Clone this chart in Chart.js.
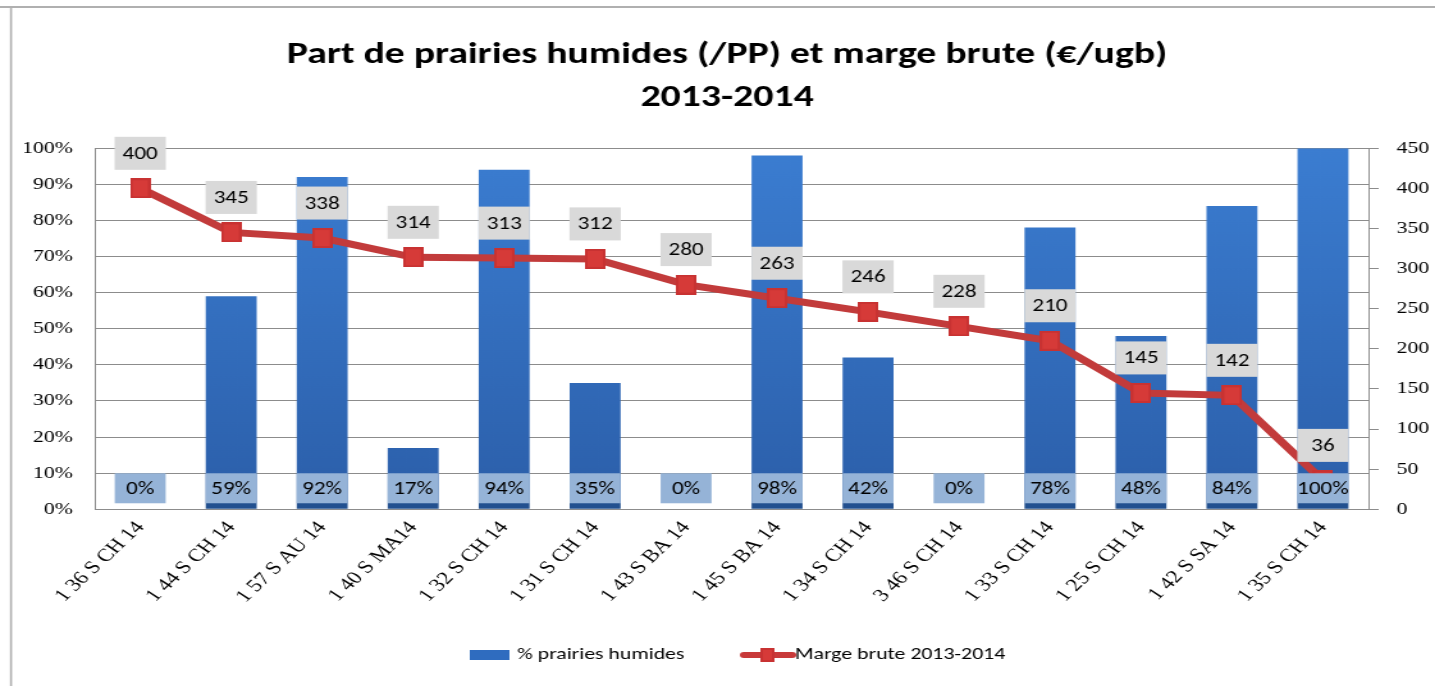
<!DOCTYPE html>
<html>
<head>
<meta charset="utf-8">
<script src="https://cdn.jsdelivr.net/npm/chart.js@4"></script>
<style>
  html, body { margin: 0; padding: 0; background: #fff; overflow: hidden; }
  /* l'image d'origine est etiree en largeur : on dessine a 1121 px puis on etire */
  #wrap { width: 1121px; height: 686px; transform: scaleX(1.2801); transform-origin: 0 0; }
</style>
</head>
<body>
<div id="wrap"><canvas id="graf" width="1121" height="686"></canvas></div>
<script>
// donnees
const exploitations = ['1 36 S CH 14', '1 44 S CH 14', '1 57 S AU 14', '1 40 S MA14', '1 32 S CH 14', '1 31 S CH 14', '1 43 S BA 14',
  '1 45 S BA 14', '1 34 S CH 14', '3 46 S CH 14', '1 33 S CH 14', '1 25 S CH 14', '1 42 S SA 14', '1 35 S CH 14'];
const partPrairies = [0, 59, 92, 17, 94, 35, 0, 98, 42, 0, 78, 48, 84, 100];
const margeBrute = [400, 345, 338, 314, 313, 312, 280, 263, 246, 228, 210, 145, 142, 36];
const ticksPct = [0, 10, 20, 30, 40, 50, 60, 70, 80, 90, 100];
const ticksMarge = [0, 50, 100, 150, 200, 250, 300, 350, 400, 450];
const titre = ['Part de prairies humides (/PP) et marge brute (€/ugb)', '2013-2014'];
const legende = ['% prairies humides', 'Marge brute 2013-2014'];

const ctx = document.getElementById('graf');
const police = 'Carlito, Lato, sans-serif';
const serif = '"Liberation Serif", "Times New Roman", serif';

function carre(w, h) {
  const c = document.createElement('canvas');
  c.width = w; c.height = h;
  const g = c.getContext('2d');
  g.fillStyle = '#c83232';
  g.fillRect(0, 0, w, h);
  g.fillStyle = '#d63a38';
  g.fillRect(2, 2, w - 4, h - 4);
  return c;
}
const marqueur = carre(16, 20);

function degradeBarre(context) {
  const area = context.chart.chartArea;
  if (!area) return '#2f6cbf';
  const gr = context.chart.ctx.createLinearGradient(0, area.top, 0, area.bottom);
  gr.addColorStop(0, '#3b7dd1');
  gr.addColorStop(0.88, '#2d62ae');
  gr.addColorStop(0.975, '#2b5ca3');
  gr.addColorStop(0.98, '#22508f');
  gr.addColorStop(1, '#22508f');
  return gr;
}

// cadre, legende et etiquettes de donnees
const etiquettes = {
  id: 'etiquettes',
  beforeDraw(chart) {
    const g = chart.ctx;
    g.save();
    g.strokeStyle = '#b0b0b0';
    g.lineWidth = 2;
    g.beginPath(); g.moveTo(0, 7); g.lineTo(1121, 7); g.stroke();
    g.lineWidth = 1.6;
    g.beginPath(); g.moveTo(8.6, 686); g.lineTo(8.6, 7); g.stroke();
    g.restore();
  },
  afterDatasetsDraw(chart) {
    const g = chart.ctx;
    const yG = chart.scales.y;
    g.save();
    g.font = '18px ' + police;
    g.textAlign = 'center';
    g.textBaseline = 'middle';
    const mBar = chart.getDatasetMeta(0);
    mBar.data.forEach((b, i) => {
      const cy = yG.getPixelForValue(0) - 21;
      const w = b.width, h = 30;
      g.fillStyle = '#95b3d7';
      g.fillRect(b.x - w / 2, cy - h / 2, w, h);
      g.fillStyle = '#000';
      g.fillText(partPrairies[i] + '%', b.x, cy + 1);
    });
    const mLig = chart.getDatasetMeta(1);
    mLig.data.forEach((p, i) => {
      const cy = p.y - 35;
      const w = 40, h = 33;
      g.fillStyle = '#d9d9d9';
      g.fillRect(p.x - w / 2, cy - h / 2, w, h);
      g.fillStyle = '#000';
      g.fillText(String(margeBrute[i]), p.x, cy + 1);
    });
    g.restore();
  },
  afterDraw(chart) {
    const g = chart.ctx;
    const y = 655;
    g.save();
    g.fillStyle = '#2f6cbf';
    g.fillRect(367, y - 5, 31, 10);
    g.strokeStyle = '#c83a3a';
    g.lineWidth = 6;
    g.lineCap = 'round';
    g.beginPath(); g.moveTo(581, y); g.lineTo(619, y); g.stroke();
    g.drawImage(carre(11, 14), 594, y - 7);
    g.font = '17px ' + police;
    g.fillStyle = '#000';
    g.textBaseline = 'middle';
    g.fillText(legende[0], 404, y);
    g.fillText(legende[1], 621, y);
    g.restore();
  }
};

new Chart(ctx, {
  data: {
    labels: exploitations,
    datasets: [
      {
        type: 'bar',
        label: legende[0],
        data: partPrairies,
        yAxisID: 'y',
        backgroundColor: degradeBarre,
        barPercentage: 0.56,
        categoryPercentage: 1,
        order: 2
      },
      {
        type: 'line',
        label: legende[1],
        data: margeBrute,
        yAxisID: 'y2',
        borderColor: '#c23b3b',
        borderWidth: 7,
        pointStyle: marqueur,
        pointRadius: 10,
        tension: 0,
        order: 1
      }
    ]
  },
  plugins: [etiquettes],
  options: {
    responsive: false,
    animation: false,
    layout: { autoPadding: false, padding: { left: 19, right: 4, top: 14, bottom: 71 } },
    plugins: {
      title: {
        display: true,
        text: titre,
        color: '#000',
        font: { family: police, size: 31, weight: 'bold', lineHeight: 1.39 },
        padding: { top: 20, bottom: 28 }
      },
      legend: { display: false },
      tooltip: { enabled: false }
    },
    scales: {
      x: {
        grid: { display: false, drawTicks: false },
        border: { color: '#8c8c8c' },
        afterFit: s => { s.paddingLeft = 0; s.paddingRight = 0; },
        ticks: {
          color: '#000',
          maxRotation: 50,
          minRotation: 50,
          padding: 8,
          font: { family: serif, size: 18 }
        }
      },
      y: {
        position: 'left',
        min: 0,
        max: 100,
        afterBuildTicks: ax => { ax.ticks = ticksPct.map(v => ({ value: v })); },
        afterFit: s => { s.width = 55; },
        ticks: {
          color: '#000',
          padding: 17,
          font: { family: serif, size: 17 },
          callback: v => v + '%'
        },
        grid: { color: '#8c8c8c', drawTicks: false },
        border: { color: '#8c8c8c' }
      },
      y2: {
        position: 'right',
        min: 0,
        max: 450,
        afterBuildTicks: ax => { ax.ticks = ticksMarge.map(v => ({ value: v })); },
        afterFit: s => { s.width = 48; },
        ticks: {
          color: '#000',
          padding: 14,
          font: { family: serif, size: 17 }
        },
        grid: { drawOnChartArea: false, color: '#8c8c8c', tickLength: 8 },
        border: { color: '#8c8c8c' }
      }
    }
  }
});
</script>
</body>
</html>
